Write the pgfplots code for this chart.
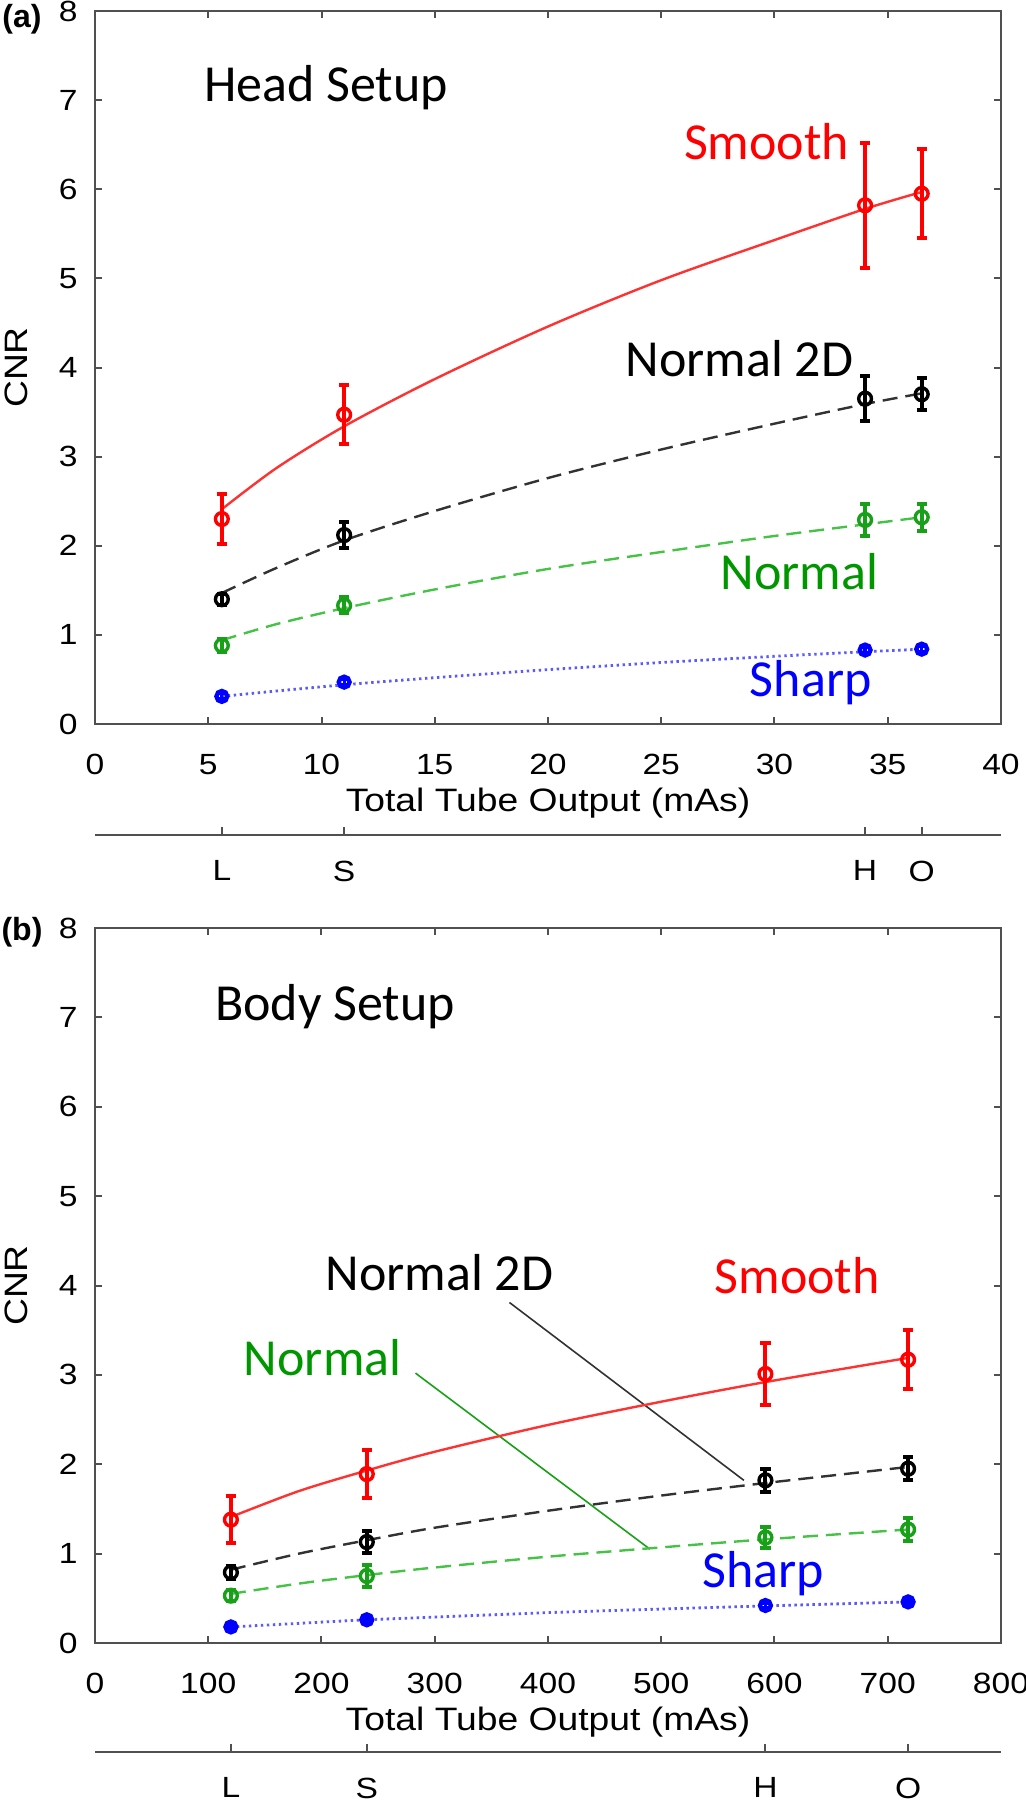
\documentclass[border=0pt]{standalone}
\usepackage{fontspec}
\usepackage{pgfplots}
\pgfplotsset{compat=1.18}
\setmainfont{Liberation Sans}
\newfontfamily\tickfont[FakeStretch=1.15]{Liberation Sans}
\newfontfamily\calfont{Carlito}

\definecolor{myred}{RGB}{255,0,0}
\definecolor{mylred}{RGB}{255,50,50}
\definecolor{mygreen}{RGB}{25,160,25}
\definecolor{mylgreen}{RGB}{70,195,70}
\definecolor{mytgreen}{RGB}{0,150,0}
\definecolor{myblue}{RGB}{0,0,255}
\definecolor{mylblue}{RGB}{90,90,255}
\definecolor{mydark}{RGB}{50,50,50}
\definecolor{axgray}{RGB}{80,80,80}

\tikzset{lab/.style={font=\calfont\fontsize{13}{15}\selectfont, anchor=center, inner sep=0pt}}

\pgfplotsset{
  mainax/.style={
    scale only axis, width=226.5pt,
    xmin=0, ymin=0, ymax=8,
    ytick={0,1,2,3,4,5,6,7,8},
    tick align=inside, major tick length=1.8pt,
    axis line style={axgray, line width=0.55pt},
    every tick/.style={axgray, line width=0.5pt},
    tick label style={font=\tickfont\fontsize{7.3}{8}\selectfont},
    /pgf/number format/assume math mode=true,
    xticklabel style={yshift=-4pt},
    yticklabel style={xshift=-0.85pt},
    ylabel={CNR}, xlabel={Total Tube Output (mAs)},
    label style={font=\tickfont\fontsize{8.1}{9}\selectfont},
    xlabel style={at={(axis description cs:0.5,-0.1108)}, anchor=center},
    ylabel style={at={(axis description cs:-0.0872,0.5)}, anchor=center},
  },
  secax/.style={
    scale only axis, width=226.5pt, height=2pt,
    xmin=0, ymin=0, ymax=1,
    axis y line=none, axis x line*=bottom,
    axis line style={-, axgray, line width=0.55pt},
    every tick/.style={axgray, line width=0.5pt},
    tick align=inside, major tick length=2pt,
    tick label style={font=\tickfont\fontsize{7.3}{8}\selectfont},
    xticklabel style={yshift=-2.9pt},
  },
  fitline/.style={no marks, smooth, line width=0.6pt},
  pts/.style={only marks, mark=o, mark size=1.6pt,
    mark options={line width=0.85pt},
    error bars/y dir=both, error bars/y explicit,
    error bars/error bar style={line width=1pt},
    error bars/error mark options={rotate=90, mark size=1.3pt, line width=1pt}},
  bluepts/.style={only marks, mark=o, mark size=1.35pt,
    mark options={line width=1.1pt},
    error bars/y dir=both, error bars/y explicit,
    error bars/error bar style={line width=0.8pt},
    error bars/error mark options={rotate=90, mark size=1pt, line width=0.8pt}},
}

\begin{document}
\begin{tikzpicture}
\useasboundingbox (0,0) rectangle (256.5pt,-450pt);

\node[font=\bfseries\fontsize{8}{9}\selectfont] at (5.5pt,-4.75pt) {(a)};
\node[font=\bfseries\fontsize{8}{9}\selectfont] at (5.5pt,-233pt) {(b)};

% ---------------- Panel (a): Head ----------------
\begin{axis}[mainax, at={(23.75pt,-181pt)}, anchor=south west, height=178.25pt,
  xmax=40, xtick={0,5,10,15,20,25,30,35,40}]
  % fits
  \addplot[fitline, mylred] coordinates {(5.6,2.41)(8,2.87)(11,3.34)(15,3.87)(20,4.46)(25,4.98)(30,5.43)(34,5.78)(36.5,5.97)};
  \addplot[fitline, mydark, dash pattern=on 3.75pt off 2pt] coordinates {(5.6,1.47)(8,1.75)(11,2.06)(15,2.39)(20,2.76)(25,3.08)(30,3.37)(34,3.59)(36.5,3.71)};
  \addplot[fitline, mylgreen, dash pattern=on 3.75pt off 2pt] coordinates {(5.6,0.94)(8,1.12)(11,1.30)(15,1.51)(20,1.74)(25,1.93)(30,2.11)(34,2.24)(36.5,2.32)};
  \addplot[fitline, mylblue, line width=0.7pt, dash pattern=on 0.6pt off 0.9pt] coordinates {(5.6,0.31)(8,0.37)(11,0.44)(15,0.52)(20,0.61)(25,0.69)(30,0.76)(34,0.81)(36.5,0.84)};
  % data
  \addplot[pts, myred] coordinates {(5.6,2.30) +- (0,0.28) (11,3.47) +- (0,0.33) (34,5.82) +- (0,0.70) (36.5,5.95) +- (0,0.50)};
  \addplot[pts, black] coordinates {(5.6,1.40) +- (0,0.06) (11,2.12) +- (0,0.15) (34,3.65) +- (0,0.25) (36.5,3.70) +- (0,0.18)};
  \addplot[pts, mygreen] coordinates {(5.6,0.88) +- (0,0.07) (11,1.33) +- (0,0.09) (34,2.29) +- (0,0.18) (36.5,2.32) +- (0,0.15)};
  \addplot[bluepts, myblue] coordinates {(5.6,0.31) +- (0,0.03) (11,0.47) +- (0,0.03) (34,0.83) +- (0,0.03) (36.5,0.84) +- (0,0.03)};
  % labels
  \node[lab, text=black] at (axis cs:10.2,7.14) {Head Setup};
  \node[lab, text=myred] at (axis cs:29.65,6.53) {Smooth};
  \node[lab, text=black] at (axis cs:28.45,4.10) {Normal 2D};
  \node[lab, text=mytgreen] at (axis cs:31.1,1.71) {Normal};
  \node[lab, text=myblue] at (axis cs:31.6,0.46) {Sharp};
\end{axis}

\begin{axis}[secax, at={(23.75pt,-208.75pt)}, anchor=south west,
  xmax=40, xtick={5.6,11,34,36.5}, xticklabels={L,S,H,O}]
  \addplot[draw=none, forget plot] coordinates {(0,0)(40,0)};
\end{axis}

% ---------------- Panel (b): Body ----------------
\begin{axis}[mainax, at={(23.75pt,-410.75pt)}, anchor=south west, height=178.75pt,
  xmax=800, xtick={0,100,200,300,400,500,600,700,800}]
  % annotation leader lines
  \draw[mydark, line width=0.4pt] (axis cs:366,3.81) -- (axis cs:573,1.82);
  \draw[mygreen, line width=0.4pt] (axis cs:283,3.02) -- (axis cs:490,1.05);
  % fits
  \addplot[fitline, mylred] coordinates {(120,1.41)(180,1.70)(240,1.93)(300,2.14)(400,2.44)(500,2.70)(592,2.92)(718,3.19)};
  \addplot[fitline, mydark, dash pattern=on 3.75pt off 2pt] coordinates {(120,0.82)(180,1.00)(240,1.15)(300,1.29)(400,1.48)(500,1.65)(592,1.79)(718,1.97)};
  \addplot[fitline, mylgreen, dash pattern=on 3.75pt off 2pt] coordinates {(120,0.55)(180,0.665)(240,0.76)(300,0.845)(400,0.966)(500,1.07)(592,1.16)(718,1.27)};
  \addplot[fitline, mylblue, line width=0.7pt, dash pattern=on 0.6pt off 0.9pt] coordinates {(120,0.18)(180,0.22)(240,0.26)(300,0.29)(400,0.34)(500,0.38)(592,0.415)(718,0.46)};
  % data
  \addplot[pts, myred] coordinates {(120,1.38) +- (0,0.26) (240,1.89) +- (0,0.27) (592,3.01) +- (0,0.35) (718,3.17) +- (0,0.33)};
  \addplot[pts, black] coordinates {(120,0.79) +- (0,0.07) (240,1.13) +- (0,0.12) (592,1.82) +- (0,0.13) (718,1.95) +- (0,0.13)};
  \addplot[pts, mygreen] coordinates {(120,0.53) +- (0,0.06) (240,0.75) +- (0,0.12) (592,1.18) +- (0,0.12) (718,1.27) +- (0,0.13)};
  \addplot[bluepts, myblue] coordinates {(120,0.18) +- (0,0.02) (240,0.26) +- (0,0.02) (592,0.42) +- (0,0.02) (718,0.46) +- (0,0.02)};
  % labels
  \node[lab, text=black] at (axis cs:212,7.12) {Body Setup};
  \node[lab, text=black] at (axis cs:304,4.14) {Normal 2D};
  \node[lab, text=myred] at (axis cs:620,4.11) {Smooth};
  \node[lab, text=mytgreen] at (axis cs:201,3.19) {Normal};
  \node[lab, text=myblue] at (axis cs:590,0.78) {Sharp};
\end{axis}

\begin{axis}[secax, at={(23.75pt,-438pt)}, anchor=south west,
  xmax=800, xtick={120,240,592,718}, xticklabels={L,S,H,O}]
  \addplot[draw=none, forget plot] coordinates {(0,0)(800,0)};
\end{axis}
\end{tikzpicture}
\end{document}
